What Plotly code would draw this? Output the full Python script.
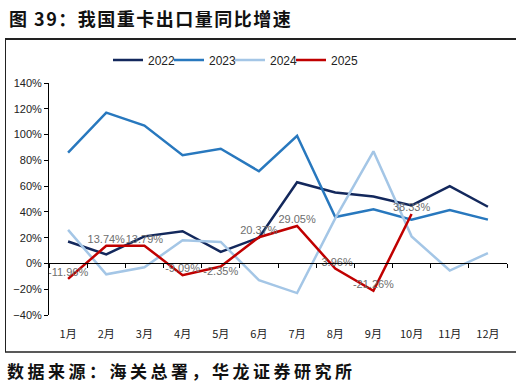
import plotly.graph_objects as go

months = ["1月", "2月", "3月", "4月", "5月", "6月", "7月", "8月", "9月", "10月", "11月", "12月"]
y2022 = [17, 7, 21, 25, 9, 20, 63, 55, 52, 45, 60, 44]
y2023 = [86, 117, 107, 84, 89, 71.5, 99, 36, 42, 34, 41.5, 34]
y2024 = [26, -8.4, -3, 18, 16.7, -13, -23, 35, 87, 21, -5.5, 8]
y2025 = [-11.96, 13.74, 13.79, -9.09, -2.35, 20.37, 29.05, -3.96, -21.26, 38.33]
label_pos_2025 = ["top center"] * 4 + ["bottom center"] + ["top center"] * 5

colors = {"2022": "#13285C", "2023": "#2878BE", "2024": "#A4C6E6", "2025": "#C00000"}

W, H = 521, 392
L, R, T, B = 49, 507, 83, 315  # plot area pixel box

def px_x(px):
    return (px - L) / (R - L)

def px_y(py):
    return (B - py) / (B - T)

fig = go.Figure()
for name, ys in [("2022", y2022), ("2023", y2023), ("2024", y2024)]:
    fig.add_trace(go.Scatter(x=months[:len(ys)], y=ys, mode="lines", name=name,
                             line=dict(color=colors[name], width=2.5)))
fig.add_trace(go.Scatter(
    x=months[:len(y2025)], y=y2025, mode="lines+text", name="2025", legendwidth=40,
    line=dict(color=colors["2025"], width=2.5),
    text=[f"{v:.2f}%" for v in y2025], textposition=label_pos_2025,
    textfont=dict(size=11, color="#6E6E6E", family="Liberation Sans, Arial"),
))
# invisible trace on the zero-line axis
fig.add_trace(go.Scatter(x=[0.5, 12.5], y=[0, 0], xaxis="x2", mode="lines",
                         line=dict(width=0), showlegend=False, hoverinfo="skip"))

fig.update_layout(
    width=W, height=H, autosize=False,
    margin=dict(l=L, r=W - R, t=T, b=H - B),
    paper_bgcolor="white", plot_bgcolor="white",
    font=dict(family="Liberation Sans, Arial, Noto Sans CJK SC", size=11, color="#222222"),
    xaxis=dict(type="category", categoryorder="array", categoryarray=months,
               range=[-0.5, 11.5], showline=False, showgrid=False, zeroline=False,
               ticks="outside", ticklen=9, tickcolor="rgba(0,0,0,0)",
               tickfont=dict(size=11, family="Noto Sans CJK SC", color="#222222")),
    xaxis2=dict(overlaying="x", anchor="free", position=40 / 180, range=[0.5, 12.5],
                tickvals=[0.5 + i for i in range(13)], showticklabels=False,
                ticks="outside", ticklen=4, tickcolor="black", tickwidth=1,
                showline=True, linecolor="black", linewidth=1, showgrid=False, zeroline=False),
    yaxis=dict(range=[-40, 140], dtick=20, ticksuffix="%", showline=True, linecolor="black",
               linewidth=1, ticks="outside", ticklen=4, tickcolor="black", showgrid=False,
               zeroline=False, tickfont=dict(size=11, color="#222222")),
    legend=dict(orientation="h", x=px_x(108), xanchor="left", y=px_y(60), yanchor="middle",
                font=dict(size=12, color="#222222"), bgcolor="rgba(0,0,0,0)",
                itemwidth=30, tracegroupgap=0, entrywidth=16),
    showlegend=True,
)

# frame lines
fig.add_shape(type="line", xref="paper", yref="paper", x0=px_x(5), x1=px_x(516),
              y0=px_y(39), y1=px_y(39), line=dict(color="#222222", width=2))
fig.add_shape(type="line", xref="paper", yref="paper", x0=px_x(5), x1=px_x(516),
              y0=px_y(352), y1=px_y(352), line=dict(color="#222222", width=1.5))
fig.add_shape(type="line", xref="paper", yref="paper", x0=px_x(5.5), x1=px_x(5.5),
              y0=px_y(39), y1=px_y(352), line=dict(color="#222222", width=1))

fig.add_annotation(xref="paper", yref="paper", x=px_x(7), y=px_y(18), xanchor="left",
                   yanchor="middle", showarrow=False,
                   text="<b><span style='letter-spacing:1.5px'>图 39：我国重卡出口量同比增速</span></b>",
                   font=dict(size=18, family="Noto Sans CJK SC", color="#111111"))
fig.add_annotation(xref="paper", yref="paper", x=px_x(5), y=px_y(370), xanchor="left",
                   yanchor="middle", showarrow=False,
                   text="<b><span style='letter-spacing:3.5px'>数据来源：海关总署，华龙证券研究所</span></b>",
                   font=dict(size=17, family="Noto Sans CJK SC", color="#111111"))

fig.write_html("out.html")
